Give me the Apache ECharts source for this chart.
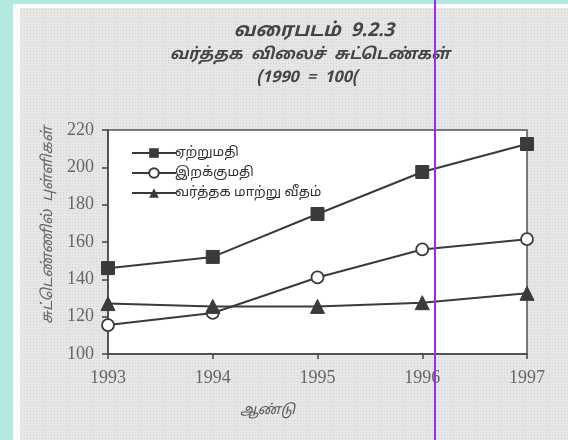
<!DOCTYPE html>
<html><head><meta charset="utf-8">
<script src="https://cdn.jsdelivr.net/npm/echarts@6/dist/echarts.min.js"></script>
<style>
html,body{margin:0;padding:0;width:568px;height:440px;overflow:hidden;background:#b3eadf;}
#page{position:absolute;left:13px;top:4px;width:555px;height:436px;background:#fbfbfb;}
#inner{position:absolute;left:7px;top:4px;right:0;bottom:0;background:#e6e6e6;
background-image:radial-gradient(#d2d2d2 0.6px, transparent 0.7px);background-size:3px 3px;}
#c{position:absolute;left:0;top:0;width:568px;height:440px;}
</style></head>
<body><div id="page"><div id="inner"></div></div><div id="c"></div>
<script>
const years = [1993, 1994, 1995, 1996, 1997];
const exportIdx = [146, 152, 175, 197.5, 212.5];
const importIdx = [115.5, 122, 141, 156, 161.5];
const termsOfTrade = [127, 125.5, 125.5, 127.5, 132.5];
const seriesNames = ['ஏற்றுமதி', 'இறக்குமதி', 'வர்த்தக மாற்று வீதம்'];
const titleLines = ['வரைபடம்  9.2.3', 'வர்த்தக  விலைச்  சுட்டெண்கள்', '(1990  =  100('];
const xTitle = 'ஆண்டு';
const yTitle = 'சுட்டெண்ணில்  புள்ளிகள்';

const tamil = "'Noto Sans Tamil','Noto Sans','DejaVu Sans',sans-serif";
const serif = "'Liberation Serif','DejaVu Serif',serif";
const chart = echarts.init(document.getElementById('c'));
const pair = arr => years.map((y, i) => [y, arr[i]]);
const lineCol = '#3a3a3a';
chart.setOption({
  backgroundColor: 'transparent',
  animation: false,
  title: [
    {text: titleLines[0], left: 309, top: 18, textAlign: 'center',
     textStyle: {fontFamily: tamil, fontSize: 19, fontStyle: 'italic', fontWeight: 'bold', color: '#444'}},
    {text: titleLines[1], left: 305, top: 43, textAlign: 'center',
     textStyle: {fontFamily: tamil, fontSize: 16, fontStyle: 'italic', fontWeight: 'bold', color: '#444'}},
    {text: titleLines[2], left: 302, top: 66, textAlign: 'center',
     textStyle: {fontFamily: tamil, fontSize: 16, fontStyle: 'italic', fontWeight: 'bold', color: '#444'}}
  ],
  legend: {
    left: 126, top: 141, orient: 'vertical', itemGap: 6, itemWidth: 44, itemHeight: 12,
    textStyle: {fontFamily: tamil, fontSize: 13.5, color: '#333', padding: [0, 0, 0, -6]},
    data: seriesNames
  },
  grid: {left: 108, right: 41, top: 130, bottom: 86, show: true, backgroundColor: '#ffffff',
         borderColor: '#555', borderWidth: 1.5},
  xAxis: {
    type: 'value', min: 1993, max: 1997, interval: 1,
    name: xTitle, nameLocation: 'middle', nameGap: 50,
    nameTextStyle: {fontFamily: tamil, fontSize: 14, fontStyle: 'italic', color: '#555', padding: [0, 100, 0, 0]},
    axisLine: {lineStyle: {color: '#444', width: 1.5}},
    axisTick: {length: 5, lineStyle: {color: '#444', width: 1.5}},
    axisLabel: {fontFamily: serif, fontSize: 18, color: '#666', margin: 15, formatter: v => String(v)},
    splitLine: {show: false}
  },
  yAxis: {
    type: 'value', min: 100, max: 220, interval: 20,
    name: yTitle, nameLocation: 'middle', nameGap: 50, nameRotate: 90,
    nameTextStyle: {fontFamily: tamil, fontSize: 15, fontStyle: 'italic', color: '#666', padding: [0, 0, 0, 34]},
    axisLine: {lineStyle: {color: '#444', width: 1.5}},
    axisTick: {length: 6, lineStyle: {color: '#444', width: 1.5}},
    axisLabel: {fontFamily: serif, fontSize: 18, color: '#666', margin: 14},
    splitLine: {show: false}
  },
  series: [
    {name: seriesNames[0], type: 'line', data: pair(exportIdx), symbol: 'rect', symbolSize: 13,
     lineStyle: {color: lineCol, width: 2}, itemStyle: {color: '#3a3a3a', borderColor: '#3a3a3a'}},
    {name: seriesNames[1], type: 'line', data: pair(importIdx), symbol: 'circle', symbolSize: 12,
     lineStyle: {color: lineCol, width: 2}, itemStyle: {color: '#ffffff', borderColor: '#3a3a3a', borderWidth: 1.8}},
    {name: seriesNames[2], type: 'line', data: pair(termsOfTrade), symbol: 'triangle', symbolSize: 14,
     lineStyle: {color: lineCol, width: 2}, itemStyle: {color: '#3a3a3a', borderColor: '#3a3a3a'}}
  ],
  graphic: [
    {type: 'line', z: 100, shape: {x1: 435, y1: 0, x2: 435, y2: 440},
     style: {stroke: '#9a2cf0', lineWidth: 2}}
  ]
});
</script></body></html>
